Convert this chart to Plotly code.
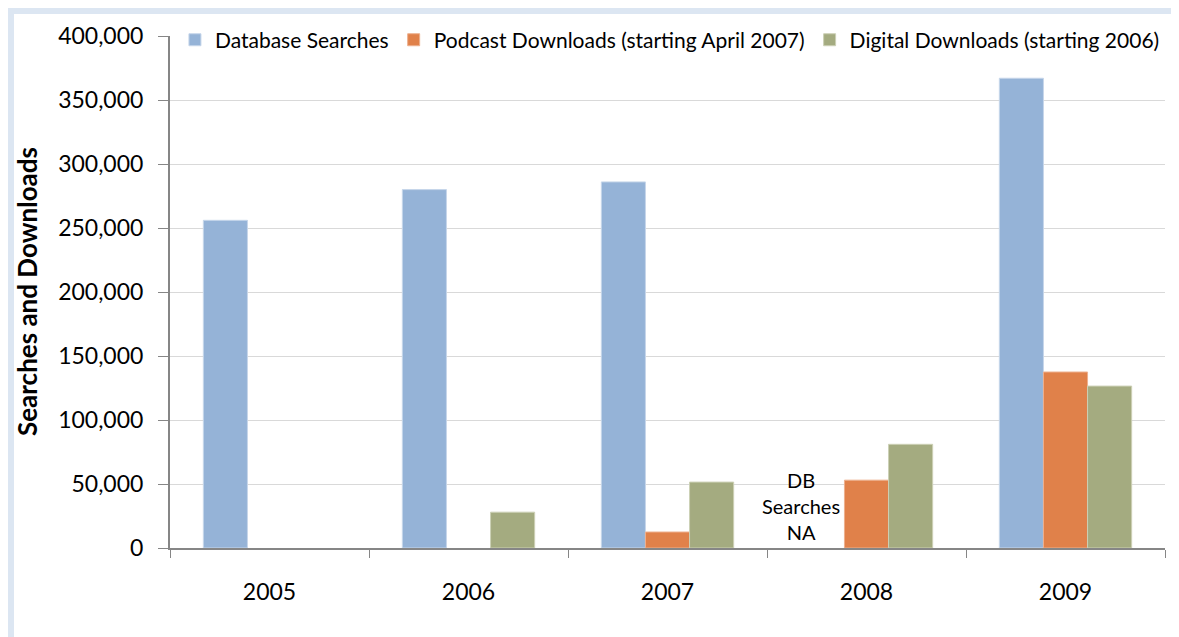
import plotly.graph_objects as go

years = ["2005", "2006", "2007", "2008", "2009"]
db_searches = [256000, 280000, 286000, None, 367000]
podcast_downloads = [None, None, 12500, 53000, 137500]
digital_downloads = [None, 28000, 51500, 81000, 126500]

y_ticks = [0, 50000, 100000, 150000, 200000, 250000, 300000, 350000, 400000]
y_tick_labels = ["0", "50,000", "100,000", "150,000", "200,000", "250,000", "300,000", "350,000", "400,000"]

font_family = "Lato, 'Open Sans', sans-serif"

fig = go.Figure()
fig.add_trace(go.Bar(x=years, y=db_searches, name="Database Searches",
                     marker=dict(color="#95B3D7", line=dict(color="#C6D6EA", width=1))))
fig.add_trace(go.Bar(x=years, y=podcast_downloads, name="Podcast Downloads (starting April 2007)",
                     marker=dict(color="#E0814A", line=dict(color="#EDB08E", width=1))))
fig.add_trace(go.Bar(x=years, y=digital_downloads, name="Digital Downloads (starting 2006)",
                     marker=dict(color="#A4AB80", line=dict(color="#CCD0B5", width=1))))

# numeric-looking category names get read as indices by annotations, so pass the index
fig.add_annotation(x=years.index("2008"), y=0, xref="x", yref="y", text="DB<br>Searches<br>NA",
                   showarrow=False, xshift=-66, yanchor="bottom", yshift=2,
                   font=dict(family=font_family, size=20, color="#000000"))

# y axis title as a rotated annotation (axis title gets lost with fixed margins)
fig.add_annotation(x=-0.1437, y=0.5, xref="paper", yref="paper", text="<b>Searches and Downloads</b>",
                   showarrow=False, textangle=-90, xanchor="center", yanchor="middle",
                   font=dict(family=font_family, size=26, color="#000000"))

# light blue frame around the chart area
fig.add_shape(type="rect", xref="paper", yref="paper", x0=-0.1568, x1=1.1, y0=-0.3, y1=1.043,
              fillcolor="white", line=dict(width=0), layer="below")

# the page puts the figure 8px in from the top-left corner, margins allow for that
fig.update_layout(
    width=1179, height=637,
    margin=dict(l=162, r=22, t=28, b=97, autoexpand=False),
    paper_bgcolor="#DCE6F2", plot_bgcolor="white",
    barmode="group", bargap=0.335, bargroupgap=0,
    font=dict(family=font_family, size=22, color="#000000"),
    showlegend=True,
    legend=dict(orientation="h", xref="container", x=0.1416, y=0.992, xanchor="left", yanchor="middle",
                bgcolor="white", font=dict(size=21), itemwidth=30, tracegroupgap=0),
    xaxis=dict(type="category", showline=True, linecolor="#868686", linewidth=2, ticks="outside",
               tickson="boundaries", ticklen=8, tickcolor="#868686", tickwidth=1,
               tickfont=dict(size=23), ticklabelstandoff=22),
    yaxis=dict(range=[0, 400000], tickvals=y_ticks, ticktext=y_tick_labels,
               showline=True, linecolor="#868686", linewidth=2, ticks="outside",
               ticklen=10, tickcolor="#868686", gridcolor="#D9D9D9", gridwidth=1,
               zeroline=False, tickfont=dict(size=23), ticklabelstandoff=10),
)

fig.write_html("out.html")
